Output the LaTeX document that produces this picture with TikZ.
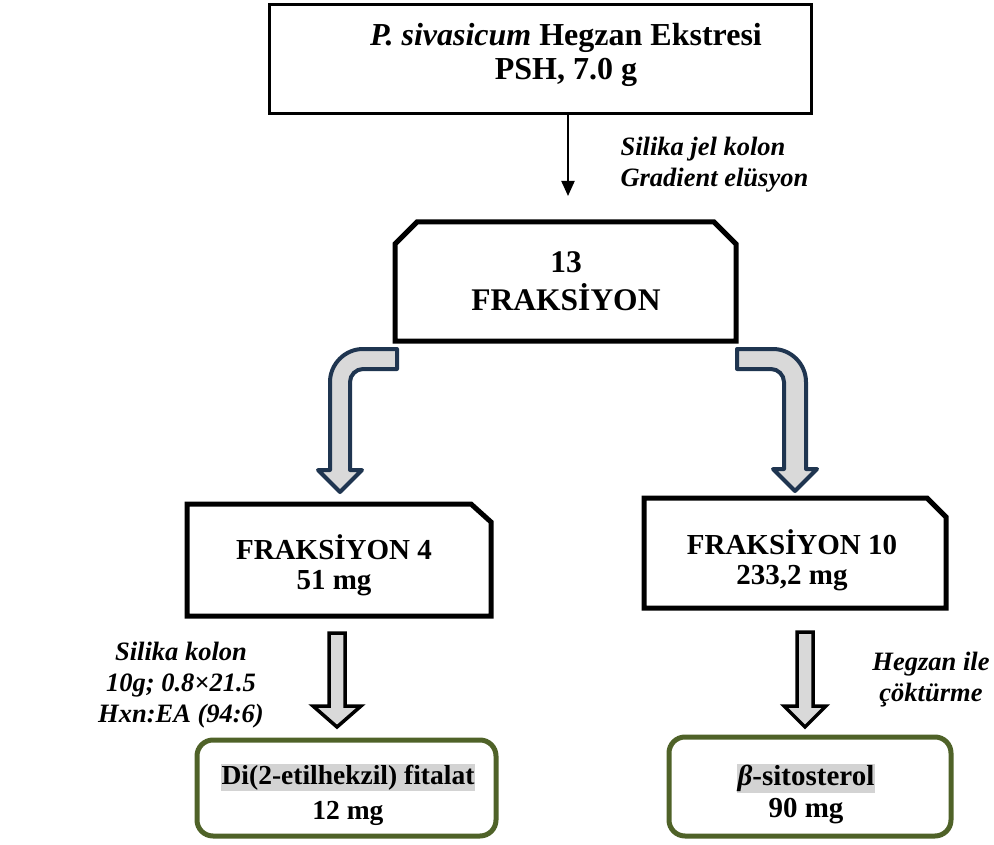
\documentclass[tikz,border=0pt]{standalone}
\usepackage{fontspec}
\setmainfont{Liberation Serif}
\usepackage{xcolor}
\usetikzlibrary{arrows.meta,calc,positioning}

\definecolor{navyline}{HTML}{1F3550}
\definecolor{oliveline}{HTML}{4F6228}
\definecolor{arrfill}{HTML}{D9D9D9}
\definecolor{hlgray}{HTML}{D3D3D3}
\setlength{\fboxsep}{1pt}

\tikzset{
    boxfont/.style={font=\fontsize{29}{30}\selectfont\bfseries},
    fracarea/.style={rectangle, inner sep=0pt, outer sep=0pt},
    fracline/.style={line width=5pt, line join=miter},
    resbox/.style={draw=oliveline, line width=5pt, rounded corners=16pt, inner sep=0pt},
    steplabel/.style={align=center, font=\fontsize{26.5}{31}\selectfont\bfseries\itshape},
    thinarr/.style={-{Triangle[length=15pt,width=13pt]}, line width=2pt},
    bentarr/.style={draw=navyline, line width=4pt, fill=arrfill, line join=round},
    blockarr/.style={draw=black, line width=3.5pt, fill=arrfill},
}

\begin{document}
\begin{tikzpicture}[x=1pt, y=-1pt]
        \useasboundingbox (0,0) rectangle (994,845);

        % extract and fractions
        \node[draw, line width=3pt, minimum width=542pt, minimum height=109pt, inner sep=0pt] (ext) at (540.5,59) {};
        \node[align=center, font=\fontsize{32}{34}\selectfont\bfseries] (exttxt) at (566,55) {\textit{P. sivasicum} Hegzan Ekstresi\\PSH, 7.0 g};

        \node[fracarea, minimum width=341pt, minimum height=119pt] (frac13) at (565.5,281.5) {};
        \draw[fracline] (frac13.south west) -- ($(frac13.north west)+(0,22)$) -- ($(frac13.north west)+(22,0)$)
            -- ($(frac13.north east)+(-22,0)$) -- ($(frac13.north east)+(0,22)$) -- (frac13.south east) -- cycle;
        \node[align=center, font=\fontsize{31.5}{38}\selectfont\bfseries] (frac13txt) at (566,281) {13\\FRAKSİYON};

        \node[fracarea, minimum width=304pt, minimum height=112pt] (frac4) at (339,560) {};
        \draw[fracline] (frac4.south west) -- (frac4.north west) -- ($(frac4.north east)+(-20,0)$)
            -- ($(frac4.north east)+(0,18)$) -- (frac4.south east) -- cycle;
        \node[boxfont, align=center] (frac4txt) at (334,565) {FRAKSİYON 4\\51 mg};

        \node[fracarea, minimum width=302pt, minimum height=110pt] (frac10) at (795,553) {};
        \draw[fracline] (frac10.south west) -- (frac10.north west) -- ($(frac10.north east)+(-19,0)$)
            -- ($(frac10.north east)+(0,19)$) -- (frac10.south east) -- cycle;
        \node[boxfont, align=center] (frac10txt) at (792,560) {FRAKSİYON 10\\233,2 mg};

        % isolated compounds
        \node[resbox, minimum width=299pt, minimum height=96pt] (res4) at (346.5,788) {};
        \node[align=center, font=\fontsize{27.5}{35}\selectfont\bfseries] (res4txt) at (348,794.5) {\colorbox{hlgray}{Di(2-etilhekzil) fitalat}\\12 mg};
        \node[resbox, minimum width=282pt, minimum height=99pt] (res10) at (810,786.5) {};
        \node[align=center, font=\fontsize{29}{32}\selectfont\bfseries] (res10txt) at (806,794) {\colorbox{hlgray}{\textit{β}-sitosterol}\\90 mg};

        % column conditions
        \coordinate (a0) at (568,196);
        \draw[thinarr] (ext.south -| a0) -- (a0);
        \node[steplabel, align=left, anchor=west] (lbl13) at (617,165) {Silika jel kolon\\Gradient elüsyon};

        \draw[bentarr] (397,349) -- (363,349) .. controls (345,349) and (330,364) .. (330,382) -- (330,470) -- (318,470) -- (340,492)
            -- (362,470) -- (350,470) -- (350,382) .. controls (350,375) and (356,369) .. (363,369) -- (397,369) -- cycle;
        \draw[bentarr] (737,349) -- (773,349) .. controls (791,349) and (806,364) .. (806,382) -- (806,469) -- (817,469) -- (795,491)
            -- (773,469) -- (784,469) -- (784,382) .. controls (784,375) and (778,369) .. (771,369) -- (737,369) -- cycle;

        \coordinate (s4) at (337,633);
        \coordinate (t4) at (337,727);
        \draw[blockarr] ($(s4)+(-8,0)$) -- ($(t4)+(-8,-21)$) -- ($(t4)+(-24,-21)$) -- (t4) -- ($(t4)+(24,-21)$) -- ($(t4)+(8,-21)$) -- ($(s4)+(8,0)$) -- cycle;
        \node[steplabel] (lbl4) at (181,685) {Silika kolon\\10g; 0.8×21.5\\Hxn:EA (94:6)};

        \coordinate (s10) at (805,632);
        \coordinate (t10) at (805,727);
        \draw[blockarr] ($(s10)+(-8,0)$) -- ($(t10)+(-8,-21)$) -- ($(t10)+(-21,-21)$) -- (t10) -- ($(t10)+(21,-21)$) -- ($(t10)+(8,-21)$) -- ($(s10)+(8,0)$) -- cycle;
        \node[steplabel] (lbl10) at (931,680) {Hegzan ile\\çöktürme};
\end{tikzpicture}
\end{document}
